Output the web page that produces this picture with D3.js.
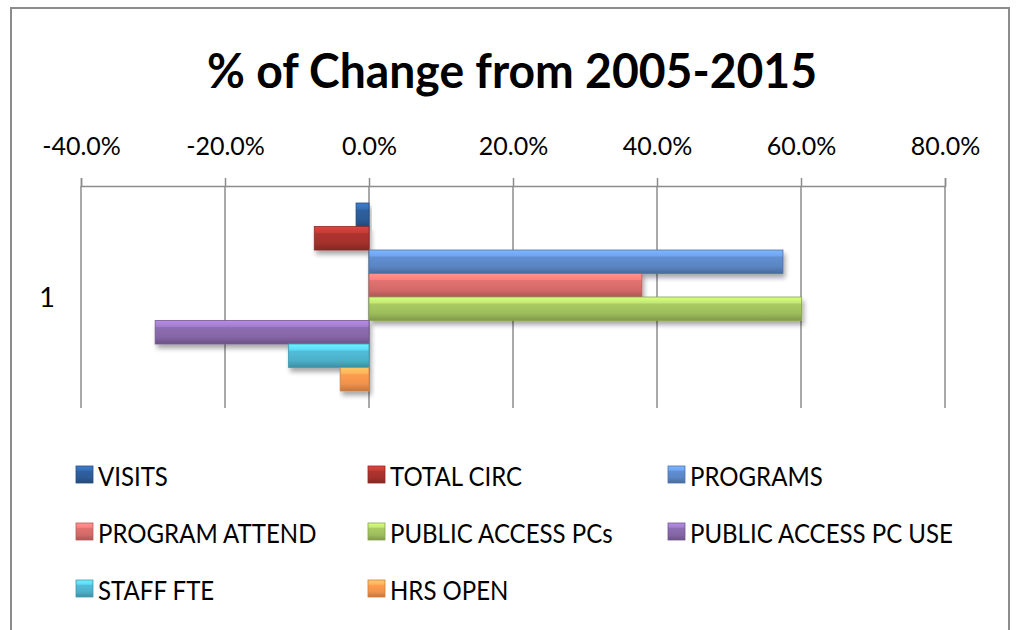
<!DOCTYPE html>
<html>
<head>
<meta charset="utf-8">
<script src="https://cdn.jsdelivr.net/npm/d3@7"></script>
<style>
  body { margin: 0; background: #fff; }
  svg { display: block; }
</style>
</head>
<body>
<svg id="chart"></svg>
<script>
// data
var categories = ["1"];
var seriesNames = ["VISITS", "TOTAL CIRC", "PROGRAMS", "PROGRAM ATTEND",
                   "PUBLIC ACCESS PCs", "PUBLIC ACCESS PC USE", "STAFF FTE", "HRS OPEN"];
var seriesValues = [-0.018, -0.076, 0.575, 0.379, 0.601, -0.297, -0.112, -0.040];
var xTicks = [-0.4, -0.2, 0, 0.2, 0.4, 0.6, 0.8];
var seriesColors = ["#2c5a94", "#a3302c", "#5a85c3", "#d26a68", "#9dbd5c", "#8466a6", "#4cb0c9", "#f0924a"];

var dimensions = {
    width: 1016,
    height: 630,
    margin: { top: 186, bottom: 222, left: 81, right: 71 }
}

var svg = d3.select("#chart")
            .attr("width", dimensions.width)
            .attr("height", dimensions.height)

var defs = svg.append("defs")

// bevel-ish gradient per series
seriesColors.forEach(function(c, i) {
    var base = d3.color(c)
    var g = defs.append("linearGradient")
                .attr("id", "grad" + i)
                .attr("x1", 0).attr("y1", 0).attr("x2", 0).attr("y2", 1)
    g.append("stop").attr("offset", "0%").attr("stop-color", base.brighter(0.9))
    g.append("stop").attr("offset", "25%").attr("stop-color", base.brighter(0.6))
    g.append("stop").attr("offset", "30%").attr("stop-color", base.brighter(0.2))
    g.append("stop").attr("offset", "70%").attr("stop-color", base)
    g.append("stop").attr("offset", "100%").attr("stop-color", base.darker(0.6))
})

var shadow = defs.append("filter").attr("id", "shadow")
                 .attr("x", "-10%").attr("y", "-20%").attr("width", "130%").attr("height", "160%")
shadow.append("feGaussianBlur").attr("in", "SourceAlpha").attr("stdDeviation", 2.5)
shadow.append("feOffset").attr("dx", 2).attr("dy", 4).attr("result", "blur")
shadow.append("feComponentTransfer").append("feFuncA").attr("type", "linear").attr("slope", 0.35)
var merge = shadow.append("feMerge")
merge.append("feMergeNode")
merge.append("feMergeNode").attr("in", "SourceGraphic")

// outer frame
svg.append("rect")
   .attr("x", 11).attr("y", 8)
   .attr("width", 998).attr("height", 640)
   .attr("fill", "none")
   .attr("stroke", "#8c8c8c")
   .attr("stroke-width", 2)

// title
svg.append("text")
   .text("% of Change from 2005-2015")
   .attr("x", 512)
   .attr("y", 88)
   .attr("text-anchor", "middle")
   .attr("textLength", 610)
   .attr("lengthAdjust", "spacingAndGlyphs")
   .style("font-family", "Lato, 'Open Sans', sans-serif")
   .style("font-weight", "bold")
   .style("font-size", "48px")
   .attr("fill", "#000")

var xScale = d3.scaleLinear()
               .domain([-0.4, 0.8])
               .range([dimensions.margin.left, dimensions.width - dimensions.margin.right])

var yScale = d3.scaleBand()
               .domain(categories)
               .range([dimensions.margin.top, dimensions.height - dimensions.margin.bottom])
               .padding(0.083)

var sScale = d3.scaleBand()
               .domain(seriesNames)
               .range([0, yScale.bandwidth()])
               .padding(0)

var plotTop = dimensions.margin.top
var plotBottom = dimensions.height - dimensions.margin.bottom

// gridlines
svg.append("g")
   .selectAll("line")
   .data(xTicks)
   .enter()
   .append("line")
   .attr("x1", d => xScale(d)).attr("x2", d => xScale(d))
   .attr("y1", plotTop).attr("y2", plotBottom)
   .attr("stroke", "#8c8c8c")
   .attr("stroke-width", 1.5)

// x axis on top
var xAxisGen = d3.axisTop(xScale)
                 .tickValues(xTicks)
                 .tickSize(8)
                 .tickPadding(23)
                 .tickFormat(d3.format(".1%"))
var xAxis = svg.append("g")
               .attr("transform", `translate(0,${plotTop})`)
               .call(xAxisGen)
xAxis.select(".domain").attr("stroke", "#8c8c8c").attr("stroke-width", 1.5)
xAxis.selectAll(".tick line").attr("stroke", "#8c8c8c").attr("stroke-width", 1.5)
xAxis.selectAll(".tick text")
     .attr("fill", "#000")
     .style("font-family", "Lato, 'Open Sans', sans-serif")
     .style("font-size", "25px")
     .text(d => d3.format(".1%")(d).replace("−", "-"))

// category label
svg.append("g")
   .selectAll("text")
   .data(categories)
   .enter()
   .append("text")
   .text(d => d)
   .attr("x", 47)
   .attr("y", d => yScale(d) + yScale.bandwidth() / 2 + 10)
   .attr("text-anchor", "middle")
   .style("font-family", "Lato, 'Open Sans', sans-serif")
   .style("font-size", "27px")
   .attr("fill", "#000")

// bars
var barData = seriesNames.map((name, i) => ({ name: name, value: seriesValues[i], i: i }))
svg.append("g")
   .selectAll("rect")
   .data(barData)
   .enter()
   .append("rect")
   .attr("x", d => Math.min(xScale(0), xScale(d.value)))
   .attr("width", d => Math.abs(xScale(d.value) - xScale(0)))
   .attr("y", d => yScale("1") + sScale(d.name))
   .attr("height", sScale.bandwidth())
   .attr("fill", d => `url(#grad${d.i})`)
   .attr("stroke", d => d3.color(seriesColors[d.i]).darker(0.4))
   .attr("stroke-width", 0.8)
   .attr("filter", "url(#shadow)")

// legend
var legendCols = [76, 368, 668]
var legendRows = [476, 533, 590]
var legend = svg.append("g")
                .selectAll("g")
                .data(barData)
                .enter()
                .append("g")
                .attr("transform", d => `translate(${legendCols[d.i % 3]},${legendRows[Math.floor(d.i / 3)]})`)
legend.append("rect")
      .attr("x", 0).attr("y", -10)
      .attr("width", 17).attr("height", 17)
      .attr("fill", d => `url(#grad${d.i})`)
      .attr("stroke", d => d3.color(seriesColors[d.i]).darker(0.4))
      .attr("stroke-width", 0.8)
legend.append("text")
      .text(d => d.name)
      .attr("transform", "translate(22,10) scale(0.89,1)")
      .style("font-family", "Lato, 'Open Sans', sans-serif")
      .style("font-size", "27px")
      .attr("fill", "#000")
</script>
</body>
</html>
